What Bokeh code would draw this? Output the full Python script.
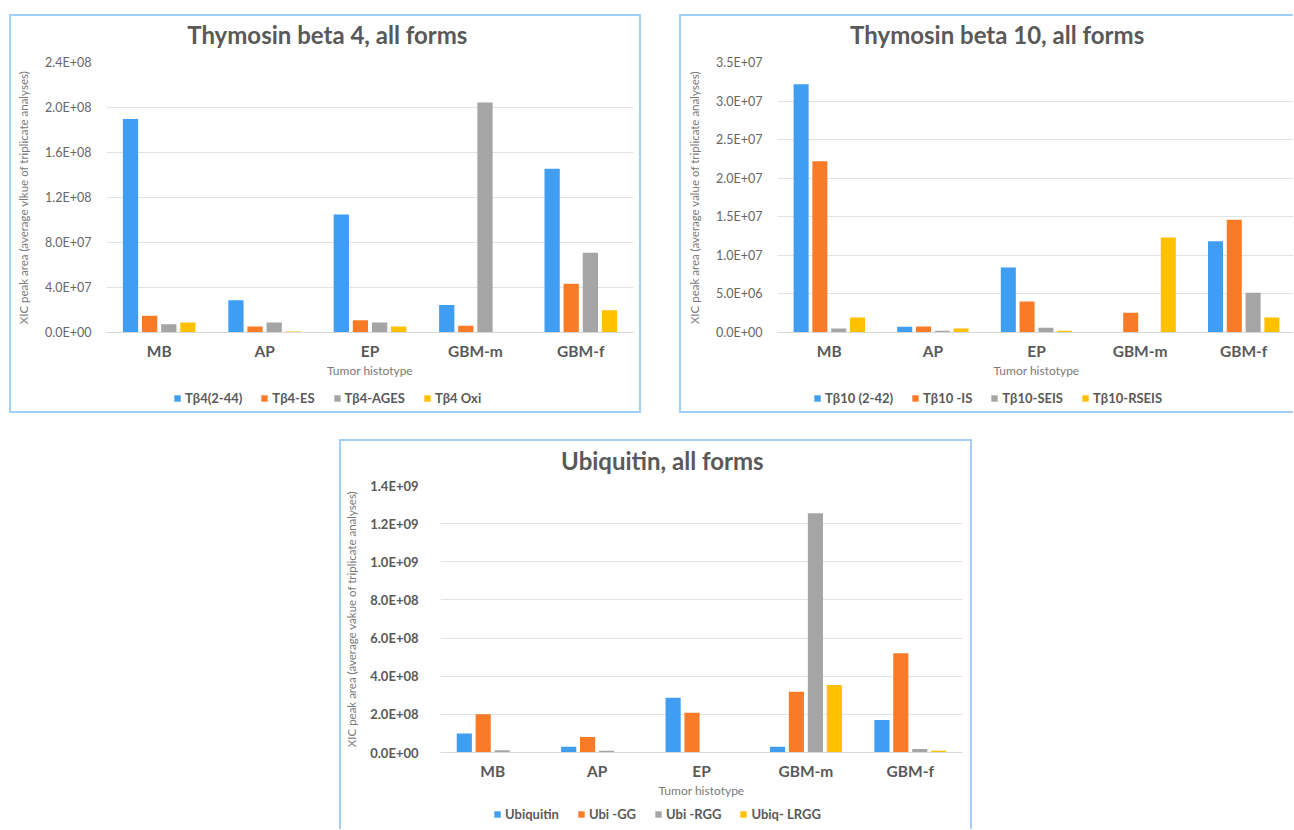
from bokeh.plotting import figure
from bokeh.models import (FactorRange, Range1d, FixedTicker, CustomJSTickFormatter,
                          Legend, LegendItem, ColumnDataSource, Spacer, Label)
from bokeh.layouts import column, row
from bokeh.transform import dodge
from bokeh.embed import file_html
from bokeh.resources import INLINE

categories = ["MB", "AP", "EP", "GBM-m", "GBM-f"]

# Thymosin beta 4
tb4_title = "Thymosin beta 4, all forms"
tb4_names = ["Tβ4(2-44)", "Tβ4-ES", "Tβ4-AGES", "Tβ4 Oxi"]
tb4_2_44 = [1.897e8, 2.87e7, 1.05e8, 2.45e7, 1.456e8]
tb4_es = [1.48e7, 5.3e6, 1.09e7, 5.9e6, 4.34e7]
tb4_ages = [7.4e6, 8.9e6, 8.9e6, 2.044e8, 7.09e7]
tb4_oxi = [8.9e6, 9.0e5, 5.3e6, 0.0, 1.98e7]
tb4_ticks = [0, 4e7, 8e7, 1.2e8, 1.6e8, 2.0e8, 2.4e8]

# Thymosin beta 10
tb10_title = "Thymosin beta 10, all forms"
tb10_names = ["Tβ10 (2-42)", "Tβ10 -IS", "Tβ10-SEIS", "Tβ10-RSEIS"]
tb10_2_42 = [3.219e7, 7.3e5, 8.43e6, 0.0, 1.184e7]
tb10_is = [2.221e7, 7.8e5, 4.02e6, 2.55e6, 1.46e7]
tb10_seis = [5.2e5, 2.2e5, 6.0e5, 0.0, 5.14e6]
tb10_rseis = [1.94e6, 5.2e5, 2.2e5, 1.232e7, 1.94e6]
tb10_ticks = [0, 5e6, 1e7, 1.5e7, 2e7, 2.5e7, 3e7, 3.5e7]

# Ubiquitin
ubi_title = "Ubiquitin, all forms"
ubi_names = ["Ubiquitin", "Ubi -GG", "Ubi -RGG", "Ubiq- LRGG"]
ubi_full = [1.0e8, 3.0e7, 2.87e8, 3.0e7, 1.71e8]
ubi_gg = [2.01e8, 8.1e7, 2.08e8, 3.19e8, 5.21e8]
ubi_rgg = [1.2e7, 9.0e6, 0.0, 1.254e9, 1.9e7]
ubi_lrgg = [0.0, 0.0, 0.0, 3.54e8, 9.0e6]
ubi_ticks = [0, 2e8, 4e8, 6e8, 8e8, 1.0e9, 1.2e9, 1.4e9]

COLORS = ["#3f9ef2", "#f97b27", "#a5a5a5", "#ffc000"]
OFFSETS = [-0.272, -0.091, 0.091, 0.272]
BAR_W = 0.145
FONT = "Lato"
TXT = "#595959"
BC = "2px solid #a3cff5"

FMT = CustomJSTickFormatter(code="""
const s = tick.toExponential(1).toUpperCase();
const m = s.match(/^(.*)E([+-])(\\d+)$/);
let e = m[3]; if (e.length < 2) { e = '0' + e; }
return m[1] + 'E' + m[2] + e;
""")


def css(sides):
    d = {"box-sizing": "content-box", "border": "none"}
    for s in sides:
        d["border-" + s] = BC
    return d


def blank_fig(w, h, sides):
    f = figure(width=w, height=h, x_range=Range1d(0, 1), y_range=Range1d(0, 1),
               output_backend="svg", toolbar_location=None,
               x_axis_location=None, y_axis_location=None,
               min_border=0, min_border_left=0, min_border_right=0,
               min_border_top=0, min_border_bottom=0)
    f.styles = css(sides)
    f.outline_line_color = None
    f.grid.visible = False
    f.background_fill_color = "white"
    f.border_fill_color = "white"
    return f


def make_title(text, w, h, cx, cy, sides):
    tf = blank_fig(w, h, sides)
    tf.add_layout(Label(x=cx, y=cy, text=text, text_align="center",
                        text_baseline="middle", text_font=FONT,
                        text_font_size="24px", text_font_style="bold",
                        text_color=TXT))
    return tf


def make_panel(series, ticks, ytitle, w, h, fl, fr, ft, fb, tick_bold, sides):
    p = figure(x_range=FactorRange(*categories), y_range=Range1d(0, ticks[-1]),
               width=w, height=h, output_backend="svg", toolbar_location=None,
               min_border_left=fl, min_border_right=fr, min_border_top=ft,
               min_border_bottom=fb)
    p.styles = css(sides)
    p.outline_line_color = None
    p.background_fill_color = "white"
    p.border_fill_color = "white"

    data = {"cat": categories}
    for i, s in enumerate(series):
        data["s%d" % i] = s
    src = ColumnDataSource(data)
    for i in range(len(series)):
        p.vbar(x=dodge("cat", OFFSETS[i], range=p.x_range), top="s%d" % i,
               width=BAR_W, source=src, fill_color=COLORS[i], line_color=None)

    p.xgrid.grid_line_color = None
    p.ygrid.grid_line_color = "#e2e2e2"
    p.ygrid.grid_line_width = 1

    p.yaxis.ticker = FixedTicker(ticks=ticks)
    p.yaxis.formatter = FMT
    p.yaxis.axis_line_color = None
    p.yaxis.major_tick_line_color = None
    p.yaxis.minor_tick_line_color = None
    p.yaxis.major_tick_out = 0
    p.yaxis.major_tick_in = 0
    p.yaxis.major_label_text_font = FONT
    p.yaxis.major_label_text_font_size = "13px" if tick_bold else "12.5px"
    p.yaxis.major_label_text_color = TXT if tick_bold else "#666666"
    p.yaxis.major_label_text_font_style = "bold" if tick_bold else "normal"
    p.yaxis.major_label_standoff = 22 if tick_bold else 15
    p.yaxis.axis_label = ytitle
    p.yaxis.axis_label_text_font = FONT
    p.yaxis.axis_label_text_font_size = "11.5px"
    p.yaxis.axis_label_text_font_style = "normal"
    p.yaxis.axis_label_text_color = "#7a7a7a"
    p.yaxis.axis_label_standoff = 9 if tick_bold else 12

    p.xaxis.axis_line_color = "#d9d9d9"
    p.xaxis.major_tick_line_color = None
    p.xaxis.minor_tick_line_color = None
    p.xaxis.major_tick_out = 0
    p.xaxis.major_tick_in = 0
    p.xaxis.major_label_text_font = FONT
    p.xaxis.major_label_text_font_size = "15.5px"
    p.xaxis.major_label_text_font_style = "bold"
    p.xaxis.major_label_text_color = TXT
    p.xaxis.major_label_standoff = 9
    p.xaxis.axis_label = "Tumor histotype"
    p.xaxis.axis_label_text_font = FONT
    p.xaxis.axis_label_text_font_size = "12px"
    p.xaxis.axis_label_text_font_style = "normal"
    p.xaxis.axis_label_text_color = "#7a7a7a"
    p.xaxis.axis_label_standoff = 0
    return p


def make_legend(names, w, h, lx, ly, sides):
    lf = blank_fig(w, h, sides)
    # zero-height bars: they only provide the legend swatches
    rends = [lf.vbar(x=[0.5], top=[0], bottom=[0], width=0.01,
                     fill_color=c, line_color=None) for c in COLORS]
    items = [LegendItem(label=n, renderers=[r]) for n, r in zip(names, rends)]
    leg = Legend(items=items, orientation="horizontal", location=(lx, ly),
                 glyph_width=8, glyph_height=8, label_standoff=4, spacing=18,
                 label_text_font=FONT, label_text_font_size="13px",
                 label_text_font_style="bold", label_text_color=TXT,
                 label_height=13, padding=0, margin=0,
                 border_line_color=None, background_fill_color=None)
    lf.add_layout(leg)
    return lf


t1 = make_title(tb4_title, 628, 36, 0.419, 0.53, ["top", "left", "right"])
p1 = make_panel([tb4_2_44, tb4_es, tb4_ages, tb4_oxi], tb4_ticks,
                "XIC peak area (average vlkue of triplicate analyses)",
                628, 331, 95, 10, 10, 51, False, ["left", "right"])
l1 = make_legend(tb4_names, 628, 28, 67, 7, ["left", "right", "bottom"])

t2 = make_title(tb10_title, 612, 36, 0.424, 0.53, ["top", "left"])
p2 = make_panel([tb10_2_42, tb10_is, tb10_seis, tb10_rseis], tb10_ticks,
                "XIC peak area (average value of triplicate analyses)",
                612, 331, 96, 0, 10, 51, False, ["left"])
l2 = make_legend(tb10_names, 612, 28, 36, 7, ["left", "bottom"])

t3 = make_title(ubi_title, 629, 36, 0.425, 0.5, ["top", "left", "right"])
p3 = make_panel([ubi_full, ubi_gg, ubi_rgg, ubi_lrgg], ubi_ticks,
                "XIC peak area (average vakue of triplicate analyses)",
                629, 326, 99, 12, 8, 51, True, ["left", "right"])
l3 = make_legend(ubi_names, 629, 26, 53, 7, ["left", "right"])

layout = column(
    Spacer(width=10, height=14),
    row(Spacer(width=9, height=10), column(t1, p1, l1), Spacer(width=38, height=10),
        column(t2, p2, l2)),
    Spacer(width=10, height=26),
    row(Spacer(width=339, height=10), column(t3, p3, l3)),
)

open("out.html", "w").write(file_html(layout, INLINE))
